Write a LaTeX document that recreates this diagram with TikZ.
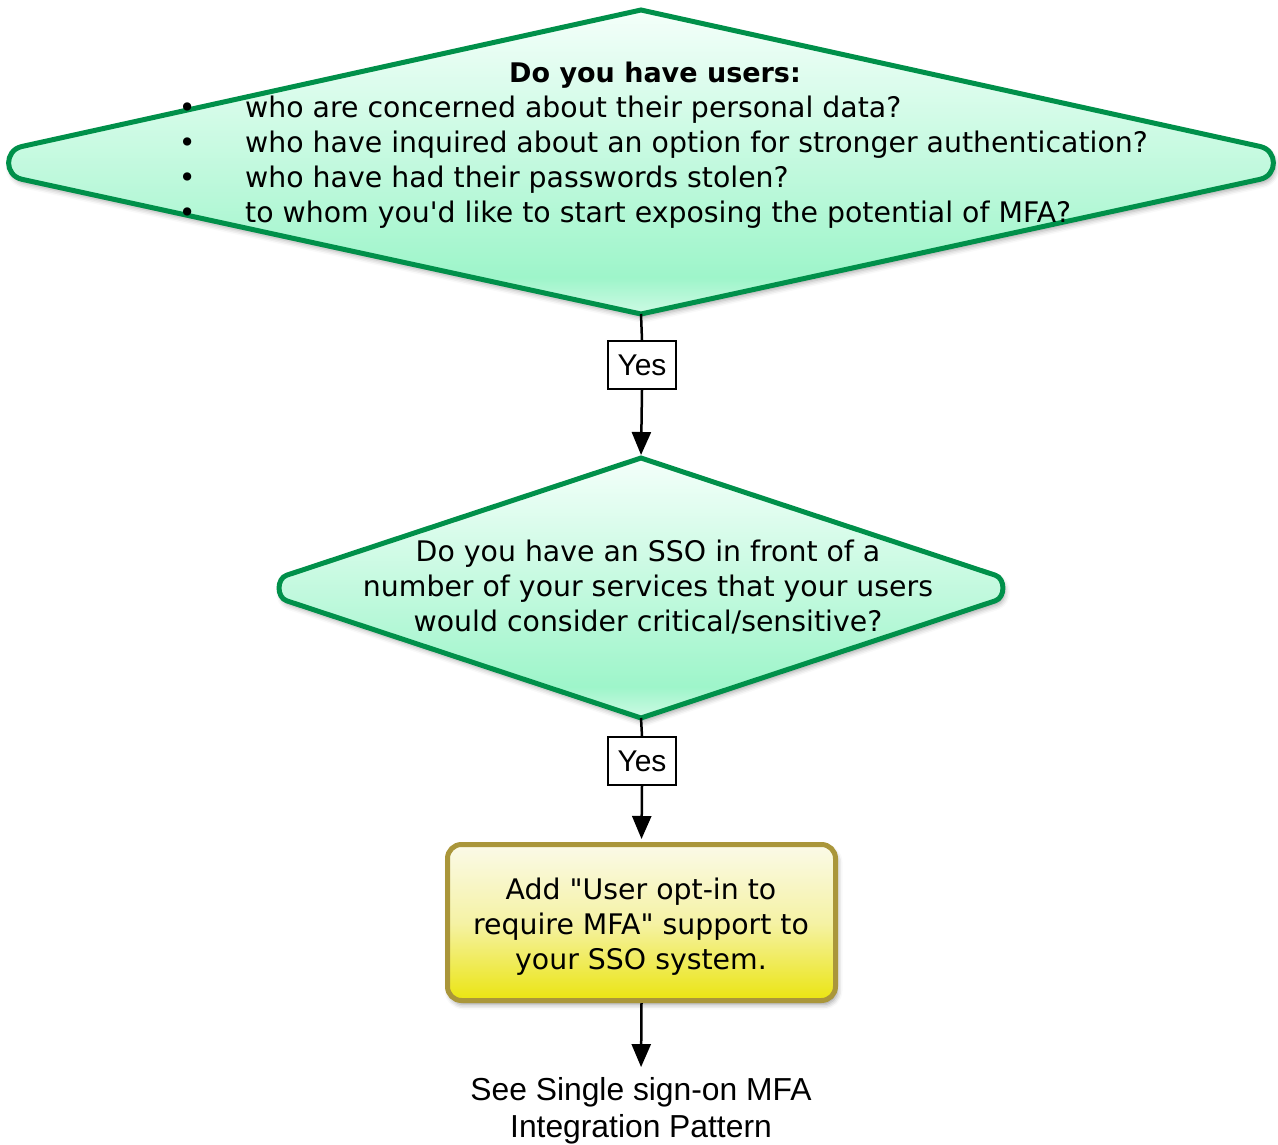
\documentclass[tikz,border=0pt]{standalone}
\usepackage{fontspec}
\newfontfamily\djv{DejaVu Sans}
\newfontfamily\helvfont{Liberation Sans}
\usetikzlibrary{arrows.meta,calc,shadows.blur}
\definecolor{dgreen}{RGB}{0,144,74}
\definecolor{mintA}{RGB}{244,255,250}
\definecolor{mintB}{RGB}{158,245,202}
\definecolor{mintC}{RGB}{205,250,228}
\definecolor{oliveline}{RGB}{170,150,58}
\definecolor{yelA}{RGB}{251,250,232}
\definecolor{yelM}{RGB}{245,242,165}
\definecolor{yelB}{RGB}{235,229,22}
\pgfdeclareverticalshading{mintshade}{100bp}{color(0bp)=(mintC); color(25bp)=(mintC); color(31bp)=(mintB); color(75bp)=(mintA); color(100bp)=(mintA)}
\pgfdeclareverticalshading{yelshade}{100bp}{color(0bp)=(yelB); color(26bp)=(yelB); color(50bp)=(yelM); color(75bp)=(yelA); color(100bp)=(yelA)}
\begin{document}
\begin{tikzpicture}[x=1pt,y=-1pt,
  decision/.style={draw=dgreen, line width=5pt, shade, shading=mintshade,
    blur shadow={shadow xshift=2pt, shadow yshift=-4pt, shadow blur radius=5pt, shadow opacity=35}},
  qtext/.style={inner sep=0pt, font=\djv\fontsize{28.35}{35}\selectfont},
  actbox/.style={draw=oliveline, line width=5pt, rounded corners=14pt, shade, shading=yelshade,
    minimum width=388pt, minimum height=156pt, inner sep=0pt,
    blur shadow={shadow xshift=2pt, shadow yshift=-4pt, shadow blur radius=5pt, shadow opacity=40}},
  yesbox/.style={draw=black, line width=2pt, fill=white, minimum width=68pt, minimum height=48pt,
    inner sep=0pt, font=\helvfont\fontsize{30}{36}\selectfont},
  endtext/.style={inner sep=0pt, align=center, font=\helvfont\fontsize{31.8}{37}\selectfont},
  conn/.style={draw=black, line width=2.5pt},
  arr/.style={conn, -{Triangle[length=23pt,width=19pt]}}]
\useasboundingbox (0,0) rectangle (1278,1145);
% first decision
\coordinate (d1t) at (641,10);
\coordinate (d1b) at (641,314);
\coordinate (d1l) at (-53,163);
\coordinate (d1r) at (1335,163);
\path[decision] (d1t) -- ($(d1l)!76.7pt!(d1t)$) .. controls ($(d1l)!58.5pt!(d1t)$) and ($(d1l)!58.5pt!(d1b)$) .. ($(d1l)!76.7pt!(d1b)$)
  -- (d1b) -- ($(d1r)!76.7pt!(d1b)$) .. controls ($(d1r)!58.5pt!(d1b)$) and ($(d1r)!58.5pt!(d1t)$) .. ($(d1r)!76.7pt!(d1t)$) -- cycle;
\node[qtext, font=\djv\bfseries\fontsize{27}{35}\selectfont] (q1h) at (655,75.5) {Do you have users:};
\node[qtext, anchor=west, align=left] (q1l) at (178.6,162.4) {%
\makebox[66.4pt][l]{\textbullet}who are concerned about their personal data?\\
\makebox[66.4pt][l]{\textbullet}who have inquired about an option for stronger authentication?\\
\makebox[66.4pt][l]{\textbullet}who have had their passwords stolen?\\
\makebox[66.4pt][l]{\textbullet}to whom you'd like to start exposing the potential of MFA?};
% second decision
\coordinate (d2t) at (641,458);
\coordinate (d2b) at (641,718);
\coordinate (d2l) at (248,588);
\coordinate (d2r) at (1034,588);
\path[decision] (d2t) -- ($(d2l)!40.8pt!(d2t)$) .. controls ($(d2l)!30pt!(d2t)$) and ($(d2l)!30pt!(d2b)$) .. ($(d2l)!40.8pt!(d2b)$)
  -- (d2b) -- ($(d2r)!40.8pt!(d2b)$) .. controls ($(d2r)!30pt!(d2b)$) and ($(d2r)!30pt!(d2t)$) .. ($(d2r)!40.8pt!(d2t)$) -- cycle;
\node[qtext, align=center] (q2) at (648,587.3) {Do you have an SSO in front of a\\number of your services that your users\\would consider critical/sensitive?};
% yes labels
\node[yesbox] (y1) at (642,365) {Yes};
\node[yesbox] (y2) at (642,761) {Yes};
% action box
\node[actbox] (act) at (641.5,922.5) {};
\node[qtext, align=center] (acttext) at (641,926.9) {Add "User opt-in to\\require MFA" support to\\your SSO system.};
% end text
\node[endtext] (end) at (641,1110.6) {See Single sign-on MFA\\Integration Pattern};
% connectors
\draw[conn] (d1b) -- (y1.north);
\draw[arr, shorten >=3pt] (y1.south) -- (d2t);
\draw[conn] (d2b) -- (y2.north);
\draw[arr, shorten >=3pt] (y2.south) -- (act.north);
\draw[arr, shorten >=10pt] (act.south) -- (end.north);
\end{tikzpicture}
\end{document}
